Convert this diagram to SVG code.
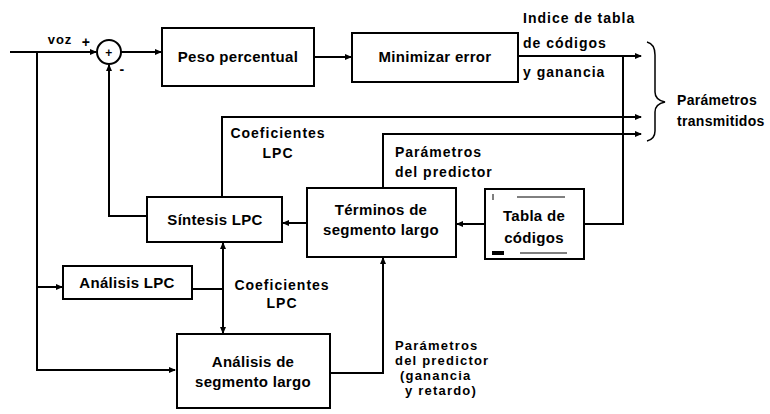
<svg xmlns="http://www.w3.org/2000/svg" width="770" height="414" viewBox="0 0 770 414">
<defs>
<marker id="ah" markerUnits="userSpaceOnUse" markerWidth="8" markerHeight="8" refX="6" refY="4" orient="auto">
<path d="M0,1 L7,4 L0,7 z" fill="#000"/>
</marker>
<style>
.box{fill:#fff;stroke:#000;stroke-width:2}
.ln{fill:none;stroke:#000;stroke-width:2}
.ar{fill:none;stroke:#000;stroke-width:2;marker-end:url(#ah)}
text{font-family:"Liberation Sans",Arial,sans-serif;font-weight:bold;font-size:15px;fill:#000;letter-spacing:0.3px}
.c{text-anchor:middle}
.s{font-size:14px;letter-spacing:1px}
.t{font-size:14px;letter-spacing:0.3px}
.b{font-size:13px;letter-spacing:1.2px}
.thin{fill:none;stroke:#000;stroke-width:1}
</style>
</defs>
<rect width="770" height="414" fill="#fff"/>

<g id="connectors">
<path class="ar" d="M10,52 H96"/>
<path class="ar" d="M37,52 V370 H175"/>
<path class="ar" d="M37,287 H62"/>
<path class="ar" d="M121,52 H161"/>
<path class="ar" d="M314,57 H351"/>
<path class="ar" d="M518,56 H641"/>
<path class="ln" d="M584,224 H623 V56"/>
<path class="ar" d="M222,197 V117 H641"/>
<path class="ar" d="M383,188 V134 H641"/>
<path class="ar" d="M147,216 H109 V65"/>
<path class="ar" d="M307,223 H283"/>
<path class="ar" d="M485,224 H457"/>
<path class="ln" d="M192,289 H223"/>
<path class="ar" d="M223,289 V243"/>
<path class="ar" d="M223,289 V333"/>
<path class="ar" d="M330,373 H383 V258"/>
<path class="ln" style="stroke-width:1.5" d="M647,42 Q655,44 655,55 L655,92 Q655,100 665,102 Q655,104 655,112 L655,131 Q655,139 647,141"/>
</g>

<g id="sum">
<circle cx="109" cy="52" r="12" class="box"/>
<text x="109" y="57" class="c" style="font-size:12px">+</text>
<text x="86" y="47" class="c" style="font-size:14px">+</text>
<text x="122" y="74" class="c" style="font-size:14px">-</text>
<text x="60" y="44" class="c" style="font-size:13px;letter-spacing:1px">voz</text>
</g>

<g id="peso">
<rect x="162" y="28" width="152" height="58" class="box"/>
<text x="238" y="62" class="c">Peso percentual</text>
</g>

<g id="minimizar">
<rect x="352" y="33" width="166" height="49" class="box"/>
<text x="435" y="62" class="c">Minimizar error</text>
</g>

<g id="indice">
<text x="523" y="23" class="s">Indice de tabla</text>
<text x="523" y="48" class="s">de códigos</text>
<text x="523" y="77" class="s">y ganancia</text>
</g>

<g id="transmitidos">
<text x="677" y="105" class="t">Parámetros</text>
<text x="677" y="126" class="t">transmitidos</text>
</g>

<g id="coef-top">
<text x="278" y="138" class="c s">Coeficientes</text>
<text x="278" y="158" class="c s">LPC</text>
</g>

<g id="param-top">
<text x="395" y="157" class="s">Parámetros</text>
<text x="395" y="177" class="s">del predictor</text>
</g>

<g id="sintesis">
<rect x="147" y="197" width="135" height="45" class="box"/>
<text x="215" y="225" class="c">Síntesis LPC</text>
</g>

<g id="terminos">
<rect x="307" y="188" width="149" height="69" class="box"/>
<text x="381" y="215" class="c">Términos de</text>
<text x="381" y="235" class="c">segmento largo</text>
</g>

<g id="tabla">
<rect x="485" y="189" width="99" height="70" class="box"/>
<path class="thin" d="M493,194 V200 M517,197 H565 M520,253 H567"/>
<rect x="492" y="251" width="12" height="4" fill="#000"/>
<text x="534" y="221" class="c">Tabla de</text>
<text x="534" y="243" class="c">códigos</text>
</g>

<g id="analisis-lpc">
<rect x="63" y="266" width="129" height="33" class="box"/>
<text x="127" y="288" class="c">Análisis LPC</text>
</g>

<g id="coef-bottom">
<text x="282" y="290" class="c s">Coeficientes</text>
<text x="282" y="308" class="c s">LPC</text>
</g>

<g id="analisis-seg">
<rect x="177" y="334" width="153" height="74" class="box"/>
<text x="253" y="367" class="c">Análisis de</text>
<text x="253" y="387" class="c">segmento largo</text>
</g>

<g id="param-bottom">
<text x="395" y="350" class="b">Parámetros</text>
<text x="395" y="365" class="b">del predictor</text>
<text x="400" y="380" class="b">(ganancia</text>
<text x="405" y="395" class="b">y retardo)</text>
</g>
</svg>
